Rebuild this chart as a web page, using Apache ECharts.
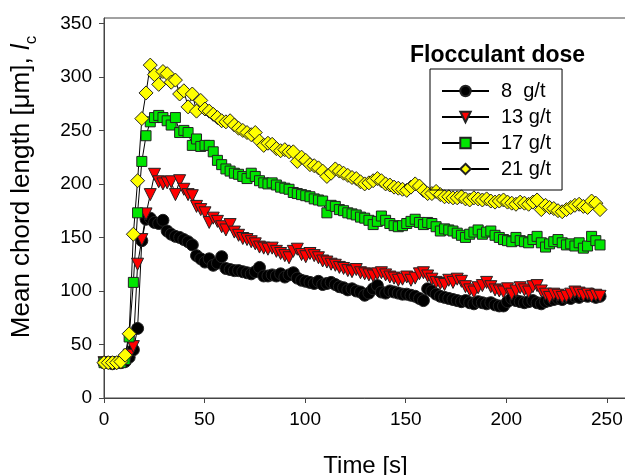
<!DOCTYPE html>
<html>
<head>
<meta charset="utf-8">
<script src="https://cdn.jsdelivr.net/npm/echarts@6/dist/echarts.min.js"></script>
<style>
html, body { margin: 0; background: #fff; }
#main { width: 625px; height: 475px; }
</style>
</head>
<body>
<div id="main"></div>
<script>
// sampling times [s]
var times = [
    0, 2.1, 4.2, 6.3, 8.4, 10.5, 12.5, 14.6, 16.7, 18.8,
    20.9, 23, 25.1, 27.2, 29.3, 31.4, 33.4, 35.5, 37.6, 39.7,
    41.8, 43.9, 46, 48.1, 50.2, 52.3, 54.3, 56.4, 58.5, 60.6,
    62.7, 64.8, 66.9, 69, 71.1, 73.2, 75.2, 77.3, 79.4, 81.5,
    83.6, 85.7, 87.8, 89.9, 92, 94.1, 96.1, 98.2, 100.3, 102.4,
    104.5, 106.6, 108.7, 110.8, 112.9, 115, 117, 119.1, 121.2, 123.3,
    125.4, 127.5, 129.6, 131.7, 133.8, 135.9, 137.9, 140, 142.1, 144.2,
    146.3, 148.4, 150.5, 152.6, 154.7, 156.8, 158.8, 160.9, 163, 165.1,
    167.2, 169.3, 171.4, 173.5, 175.6, 177.7, 179.7, 181.8, 183.9, 186,
    188.1, 190.2, 192.3, 194.4, 196.5, 198.6, 200.6, 202.7, 204.8, 206.9,
    209, 211.1, 213.2, 215.3, 217.4, 219.5, 221.5, 223.6, 225.7, 227.8,
    229.9, 232, 234.1, 236.2, 238.3, 240.4, 242.4, 244.5, 246.6
];

var dose8 = [
    33, 33, 32, 33, 33, 34, 38, 45, 65, 147,
    167, 168, 164, 163, 166, 156, 153, 151, 150, 148,
    146, 143, 133, 130, 127, 130, 124, 126, 132, 121,
    120, 119, 119, 118, 117, 116, 118, 122, 114, 114,
    115, 114, 116, 113, 115, 117, 112, 110, 109, 108,
    107, 109, 106, 107, 108, 106, 104, 103, 101, 102,
    100, 99, 96, 98, 102, 105, 99, 98, 100, 99,
    98, 97, 97, 96, 95, 93, 91, 102, 100, 97,
    95, 94, 93, 92, 91, 90, 91, 89, 88, 90,
    89, 88, 89, 87, 86, 86, 90, 93, 91, 90,
    89, 90, 91, 89, 88, 90, 91, 92, 93, 92,
    94, 93, 95, 94, 96, 95, 97, 94, 95
];

var dose13 = [
    33, 33, 33, 32, 33, 35, 40, 48, 125, 148,
    172, 190, 209, 202, 200, 201, 202, 190, 203, 195,
    190, 189, 179, 176, 173, 164, 168, 165, 160, 157,
    162, 155, 152, 149, 148, 146, 144, 141, 140, 139,
    140, 137, 135, 133, 131, 137, 139, 134, 132, 135,
    133, 131, 128, 127, 125, 124, 122, 121, 119, 118,
    120, 117, 116, 115, 114, 116, 117, 115, 113, 112,
    110, 111, 113, 110, 112, 116, 117, 114, 111, 108,
    107, 106, 110, 108, 111, 109, 104, 101, 99, 103,
    105, 108, 104, 101, 100, 99, 102, 97, 100, 103,
    101, 99, 104, 105, 100, 97, 94, 97, 96, 94,
    95, 97, 99, 98, 96, 97, 95, 96, 95
];

var dose17 = [
    33, 33, 33, 34, 33, 36, 57, 108, 173, 221,
    245, 258, 262, 264, 262, 259, 255, 262, 248, 250,
    248, 236, 242, 235, 236, 236, 230, 222, 218, 214,
    212, 210, 209, 207, 205, 210, 207, 203, 201, 200,
    201, 199, 197, 196, 195, 192, 191, 190, 189, 188,
    186, 185, 184, 173, 180, 179, 176, 175, 173, 172,
    171, 169, 168, 166, 162, 165, 170, 166, 163, 161,
    160, 161, 163, 165, 167, 164, 162, 164, 163, 160,
    156, 158, 157, 156, 154, 152, 150, 153, 155, 157,
    153, 155, 156, 152, 150, 148, 147, 146, 150, 147,
    146, 145, 148, 151, 145, 141, 144, 146, 148, 145,
    143, 144, 142, 145, 140, 142, 151, 147, 143
];

var dose21 = [
    33, 33, 33, 33, 34, 40, 60, 153, 203, 261,
    285, 311, 302, 293, 305, 303, 295, 297, 284, 287,
    272, 284, 268, 278, 270, 268, 265, 262, 259, 258,
    259, 255, 252, 250, 248, 246, 248, 240, 236, 238,
    237, 233, 231, 232, 230, 230, 221, 225, 222, 218,
    217, 215, 212, 207, 210, 214, 212, 210, 208, 206,
    205, 202, 200, 201, 203, 205, 203, 200, 199, 197,
    196, 195, 194, 197, 200, 198, 194, 191, 191, 193,
    190, 188, 188, 187, 187, 188, 186, 185, 187, 186,
    185, 186, 184, 183, 184, 185, 183, 182, 181, 183,
    182, 181, 183, 185, 176, 180, 178, 177, 175, 174,
    176, 178, 180, 181, 179, 178, 184, 182, 176
];

var seriesNames = ['8  g/t', '13 g/t', '17 g/t', '21 g/t'];
var xTicks = [0, 50, 100, 150, 200, 250];
var yTicks = [0, 50, 100, 150, 200, 250, 300, 350];

var font = "'Liberation Sans', Arial, sans-serif";

function pairs(vals) {
    return times.map(function (t, i) { return [t, vals[i]]; });
}

function makeSeries(name, vals, symbol, size, fill, rotate) {
    return {
        name: name,
        type: 'line',
        data: pairs(vals),
        symbol: symbol,
        symbolSize: size,
        symbolRotate: rotate || 0,
        showAllSymbol: true,
        lineStyle: { color: '#000', width: 1 },
        itemStyle: { color: fill, borderColor: '#222', borderWidth: 1 },
        emphasis: { disabled: true }
    };
}

var chart = echarts.init(document.getElementById('main'));
chart.setOption({
    animation: false,
    backgroundColor: '#fff',
    title: {
        text: 'Flocculant dose',
        left: 410,
        top: 44,
        padding: 0,
        textStyle: { fontFamily: font, fontSize: 23, fontWeight: 'bold', color: '#000' }
    },
    legend: {
        data: seriesNames,
        orient: 'vertical',
        left: 430,
        top: 69,
        padding: [12, 11, 11, 11],
        itemWidth: 47,
        itemHeight: 13,
        itemGap: 6,
        borderColor: '#000',
        borderWidth: 1,
        textStyle: { fontFamily: font, fontSize: 20, lineHeight: 20, color: '#000', padding: [0, 0, 0, 7] }
    },
    grid: {
        left: 104,
        top: 18,
        right: -2,
        bottom: 77,
        show: true,
        borderColor: '#444',
        borderWidth: 1,
        outerBoundsMode: 'none'
    },
    xAxis: {
        type: 'value',
        min: 0,
        max: 260,
        interval: 50,
        name: 'Time [s]',
        nameLocation: 'middle',
        nameGap: 56,
        nameTextStyle: { fontFamily: font, fontSize: 24, color: '#000' },
        axisLine: { lineStyle: { color: '#444', width: 1 } },
        axisTick: { customValues: xTicks, length: 5, lineStyle: { color: '#444' } },
        axisLabel: { customValues: xTicks, margin: 12, fontFamily: font, fontSize: 19, color: '#000' },
        splitLine: { show: false }
    },
    yAxis: {
        type: 'value',
        min: 0,
        max: 355,
        interval: 50,
        name: '{n|Mean chord length [μm], }{i|l}{s|c}',
        nameLocation: 'middle',
        nameGap: 64,
        nameTextStyle: {
            fontFamily: font, fontSize: 26, color: '#000',
            padding: [0, 0, 0, 42],
            rich: {
                n: { fontFamily: font, fontSize: 26, color: '#000', verticalAlign: 'bottom', padding: [0, 0, 5, 0] },
                i: { fontFamily: font, fontSize: 26, color: '#000', fontStyle: 'italic', verticalAlign: 'bottom', padding: [0, 0, 5, 0] },
                s: { fontFamily: font, fontSize: 17, color: '#000', verticalAlign: 'bottom' }
            }
        },
        axisLine: { show: true, lineStyle: { color: '#444', width: 1 } },
        axisTick: { show: true, customValues: yTicks, length: 5, lineStyle: { color: '#444' } },
        axisLabel: { customValues: yTicks, margin: 12, fontFamily: font, fontSize: 19, color: '#000' },
        splitLine: { show: false }
    },
    series: [
        makeSeries(seriesNames[0], dose8, 'circle', 12, '#000'),
        makeSeries(seriesNames[1], dose13, 'triangle', 12, '#ff0000', 180),
        makeSeries(seriesNames[2], dose17, 'rect', 10, '#00e600'),
        makeSeries(seriesNames[3], dose21, 'diamond', 14, '#ffff00')
    ]
});
</script>
</body>
</html>
